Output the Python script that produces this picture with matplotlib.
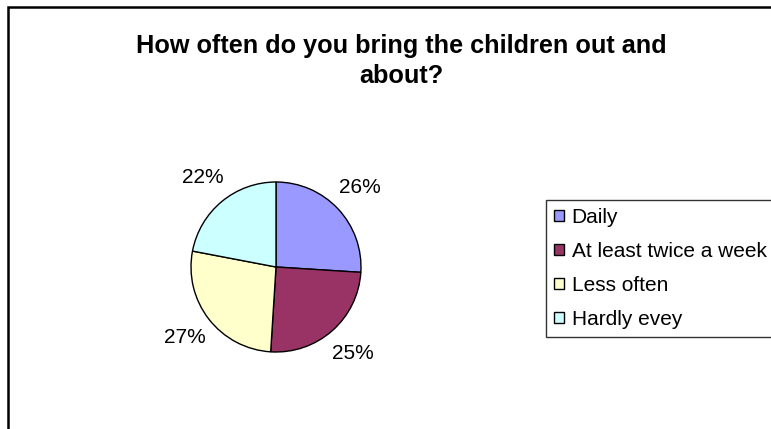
import matplotlib
matplotlib.use("Agg")
import matplotlib.pyplot as plt
from matplotlib.patches import Rectangle

plt.rcParams['font.family'] = ['Liberation Sans', 'DejaVu Sans']

categories = ["Daily", "At least twice a week", "Less often", "Hardly evey"]
shares = [26, 25, 27, 22]
colors = ["#9999FF", "#993366", "#FFFFCC", "#CCFFFF"]
title = "How often do you bring the children out and\nabout?"

W, H = 771, 429
fig = plt.figure(figsize=(W / 100, H / 100), dpi=100)
ax = fig.add_axes([0, 0, 1, 1])

wedges, texts, autotexts = ax.pie(
    shares, colors=colors, startangle=90, counterclock=False,
    center=(276, H - 267), radius=85,
    autopct=lambda p: f"{p:.0f}%", pctdistance=1.36,
    wedgeprops=dict(edgecolor="black", linewidth=1.0),
    textprops=dict(fontsize=15, color="black"),
)
ax.set_xlim(0, W)
ax.set_ylim(0, H)
ax.set_aspect("equal")
ax.axis("off")

fig.text(401 / W, 1 - 61 / H, title, ha="center", va="center",
         fontsize=18.2, fontweight="bold", linespacing=1.3)

leg = fig.legend(wedges, categories, loc="upper left",
                 bbox_to_anchor=(546 / W, 1 - 200 / H),
                 fontsize=15, frameon=True, fancybox=False,
                 handlelength=0.5, handleheight=0.5, handletextpad=0.35,
                 labelspacing=0.72, borderpad=0.38, borderaxespad=0)
leg.get_frame().set_edgecolor("black")
leg.get_frame().set_linewidth(1.0)

# outer chart border (right and bottom edges fall outside the image)
fig.add_artist(Rectangle((8 / W, -0.1), 1.2, 1.1 - 7 / H,
                         transform=fig.transFigure, fill=False,
                         edgecolor="black", linewidth=1.8))

fig.savefig("out.png", dpi=100, facecolor="white")
